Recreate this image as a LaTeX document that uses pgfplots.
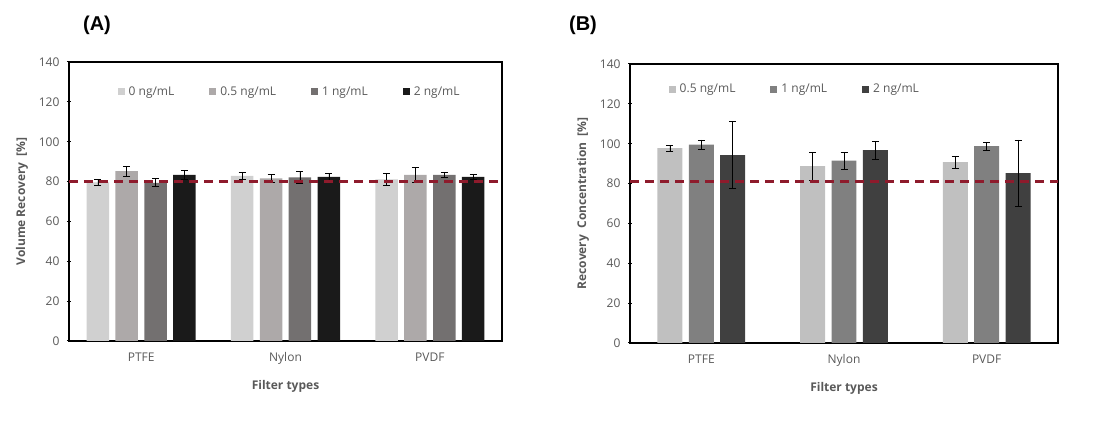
\documentclass[border=0pt]{standalone}
\usepackage{fontspec}
\setmainfont{Open Sans}
\newfontfamily\headfont{Liberation Sans}
\usepackage{pgfplots}
\pgfplotsset{compat=1.18}
\definecolor{tickgray}{HTML}{595959}
\definecolor{cA1}{HTML}{D0D0D0}
\definecolor{cA2}{HTML}{ADA9A9}
\definecolor{cA3}{HTML}{737070}
\definecolor{cA4}{HTML}{1A1A1A}
\definecolor{cB1}{HTML}{C0C0C0}
\definecolor{cB2}{HTML}{808080}
\definecolor{cB3}{HTML}{404040}
\definecolor{refred}{HTML}{8E1B2C}
\pgfplotsset{
  common/.style={
    scale only axis, ybar,
    ymin=0, ymax=140, ytick={0,20,...,140},
    xmin=-0.5, xmax=2.5, xtick={0,1,2}, xticklabels={PTFE,Nylon,PVDF},
    x tick style={draw=none},
    ytick style={black, line width=1pt}, tick align=center, major tick length=4pt,
    ytick pos=left,
    axis line style={black, line width=1.6pt},
    ticklabel style={text=tickgray, font=\fontsize{12}{14}\selectfont},
    yticklabel style={xshift=-4pt},
    xticklabel style={yshift=-6pt},
    /pgf/number format/assume math mode=true,
    xlabel={Filter types},
    label style={text=tickgray, font=\fontsize{12}{14}\selectfont\bfseries},
    xlabel style={yshift=-9pt},
    ylabel style={yshift=4pt},
    legend style={draw=none, fill=none, legend columns=-1,
      font=\fontsize{12}{14}\selectfont, text=tickgray,
      /tikz/every even column/.append style={column sep=33pt},
      /tikz/every odd column/.append style={column sep=2pt}},
    legend image code/.code={\path[#1, draw=none] (0pt,-3.5pt) rectangle (7pt,3.5pt);},
    error bars/y dir=both, error bars/y explicit,
    error bars/error bar style={black, line width=0.6pt},
    error bars/error mark options={rotate=90, black, mark size=3.5pt, line width=0.6pt},
  },
}
\begin{document}
\begin{tikzpicture}
\useasboundingbox (0,0) rectangle (1101pt,423pt);
\node[font=\headfont\bfseries\fontsize{20}{24}\selectfont] at (97pt,398pt) {(A)};
\node[font=\headfont\bfseries\fontsize{20}{24}\selectfont] at (583pt,398pt) {(B)};
\begin{axis}[common, at={(69pt,82pt)}, anchor=south west,
  width=433pt, height=279pt, bar width=0.156,
  ylabel={Volume Recovery \ [\%]},
  legend style={at={(0.105,0.894)}, anchor=west},
  legend entries={0 ng/mL, 0.5 ng/mL, 1 ng/mL, 2 ng/mL}]
\addplot[fill=cA1, draw=none, bar shift=-0.3] coordinates {(0,79.6) +- (0,1.6) (1,82.8) +- (0,1.8) (2,81.1) +- (0,3.0)};
\addplot[fill=cA2, draw=none, bar shift=-0.1] coordinates {(0,85.3) +- (0,2.5) (1,81.6) +- (0,2.0) (2,83.3) +- (0,3.8)};
\addplot[fill=cA3, draw=none, bar shift=0.1] coordinates {(0,79.4) +- (0,2.0) (1,82.1) +- (0,3.0) (2,83.3) +- (0,1.3)};
\addplot[fill=cA4, draw=none, bar shift=0.3] coordinates {(0,83.4) +- (0,2.2) (1,82.3) +- (0,1.8) (2,82.3) +- (0,1.3)};
\addplot[sharp plot, refred, line width=2.6pt, dash pattern=on 9pt off 6pt, forget plot, error bars/y dir=none] coordinates {(-0.5,80) (2.5,80)};
\end{axis}
\begin{axis}[common, at={(630pt,80pt)}, anchor=south west,
  width=428pt, height=279pt, bar width=0.175,
  ylabel={Recovery \ Concentration \ [\%]},
  legend style={at={(0.083,0.909)}, anchor=west},
  legend entries={0.5 ng/mL, 1 ng/mL, 2 ng/mL}]
\addplot[fill=cB1, draw=none, bar shift=-0.22] coordinates {(0,97.8) +- (0,1.5) (1,88.8) +- (0,7.0) (2,90.8) +- (0,3.0)};
\addplot[fill=cB2, draw=none, bar shift=0] coordinates {(0,99.5) +- (0,2.4) (1,91.5) +- (0,4.3) (2,98.8) +- (0,2.0)};
\addplot[fill=cB3, draw=none, bar shift=0.22] coordinates {(0,94.3) +- (0,16.7) (1,96.8) +- (0,4.5) (2,85.3) +- (0,16.6)};
\addplot[sharp plot, refred, line width=2.6pt, dash pattern=on 9pt off 6pt, forget plot, error bars/y dir=none] coordinates {(-0.5,81) (2.5,81)};
\end{axis}
\end{tikzpicture}
\end{document}
